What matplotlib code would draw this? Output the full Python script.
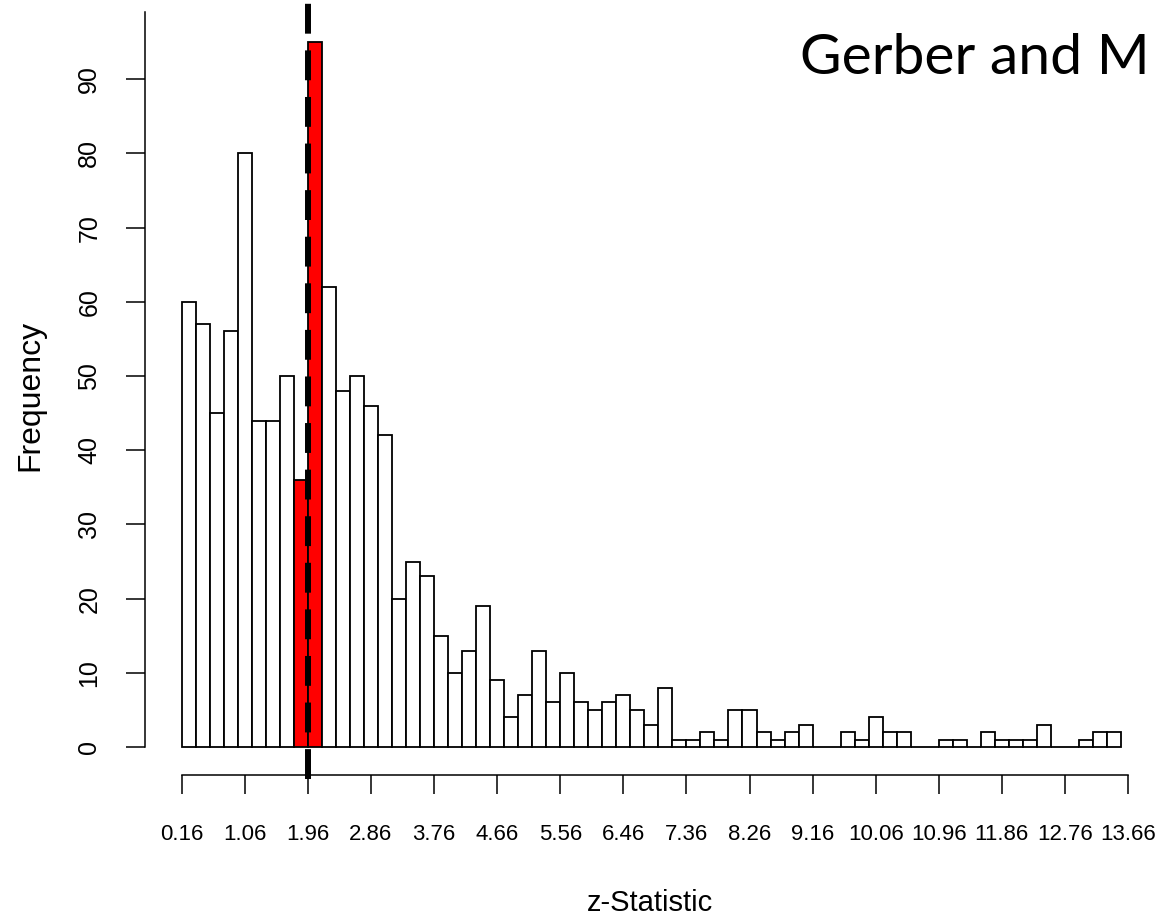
import numpy as np
import matplotlib
matplotlib.use("Agg")
import matplotlib.pyplot as plt

# histogram of z-statistics, bins of width 0.2 starting at 0.16
bin_start = 0.16
bin_width = 0.2
counts = [60, 57, 45, 56, 80, 44, 44, 50, 36, 95,
          62, 48, 50, 46, 42, 20, 25, 23, 15, 10,
          13, 19, 9, 4, 7, 13, 6, 10, 6, 5,
          6, 7, 5, 3, 8, 1, 1, 2, 1, 5,
          5, 2, 1, 2, 3, 0, 0, 2, 1, 4,
          2, 2, 0, 0, 1, 1, 0, 2, 1, 1,
          1, 3, 0, 0, 1, 2, 2]
red_bins = [8, 9]          # bins on either side of 1.96
critical_z = 1.96
xtick_vals = [0.16, 1.06, 1.96, 2.86, 3.76, 4.66, 5.56, 6.46, 7.36,
              8.26, 9.16, 10.06, 10.96, 11.86, 12.76, 13.66]
ytick_vals = [0, 10, 20, 30, 40, 50, 60, 70, 80, 90]

W, H = 1161, 915
fig = plt.figure(figsize=(W / 100, H / 100), dpi=100)

# axes box in pixels: left 145, right 1150, bottom 775, top 0
ax = fig.add_axes([145 / W, (H - 775) / H, (1150 - 145) / W, 775 / H])

edges = bin_start + bin_width * np.arange(len(counts))
colors = ["red" if i in red_bins else "white" for i in range(len(counts))]
ax.bar(edges, counts, width=bin_width, align="edge", color=colors,
       edgecolor="black", linewidth=1.3)

px_per_x = 70.1
px_per_y = 7.42
ax.set_xlim(0.16 - (181.7 - 145) / px_per_x, 0.16 + (1150 - 181.7) / px_per_x)
ax.set_ylim(-(775 - 747) / px_per_y, 747 / px_per_y)

# dashed 1.96 line, runs a little past the axis area
ax.plot([critical_z, critical_z], [-(779 - 747) / px_per_y, 747 / px_per_y],
        color="black", lw=4.3, linestyle=(0, (5, 2.8)), clip_on=False,
        solid_capstyle="butt", dash_capstyle="butt", zorder=5)

for s in ["top", "right"]:
    ax.spines[s].set_visible(False)
ax.spines["left"].set_bounds(0, 99)
ax.spines["bottom"].set_bounds(xtick_vals[0], xtick_vals[-1])
ax.spines["left"].set_linewidth(1.1)
ax.spines["bottom"].set_linewidth(1.1)

ax.set_xticks(xtick_vals)
ax.set_xticklabels([f"{v:.2f}" for v in xtick_vals],
                   fontsize=16, family="Liberation Sans")
ax.set_yticks(ytick_vals)
ax.set_yticklabels([str(v) for v in ytick_vals], fontsize=18,
                   family="Liberation Sans", rotation=90, va="center")
ax.tick_params(axis="x", length=13.5, width=1.1, pad=22, color="black")
ax.tick_params(axis="y", length=13.5, width=1.1, pad=18, color="black")

fig.text(650 / W, 1 - 903 / H, "z-Statistic", fontsize=21,
         family="Liberation Sans", ha="center", va="center")
fig.text(30 / W, 1 - 395 / H, "Frequency", fontsize=23,
         family="Liberation Sans", ha="center", va="center", rotation=90)

fig.text(800 / W, 1 - 74 / H, "Gerber and M", fontsize=41,
         family="Lato", ha="left", va="baseline")

fig.savefig("out.png", dpi=100)
